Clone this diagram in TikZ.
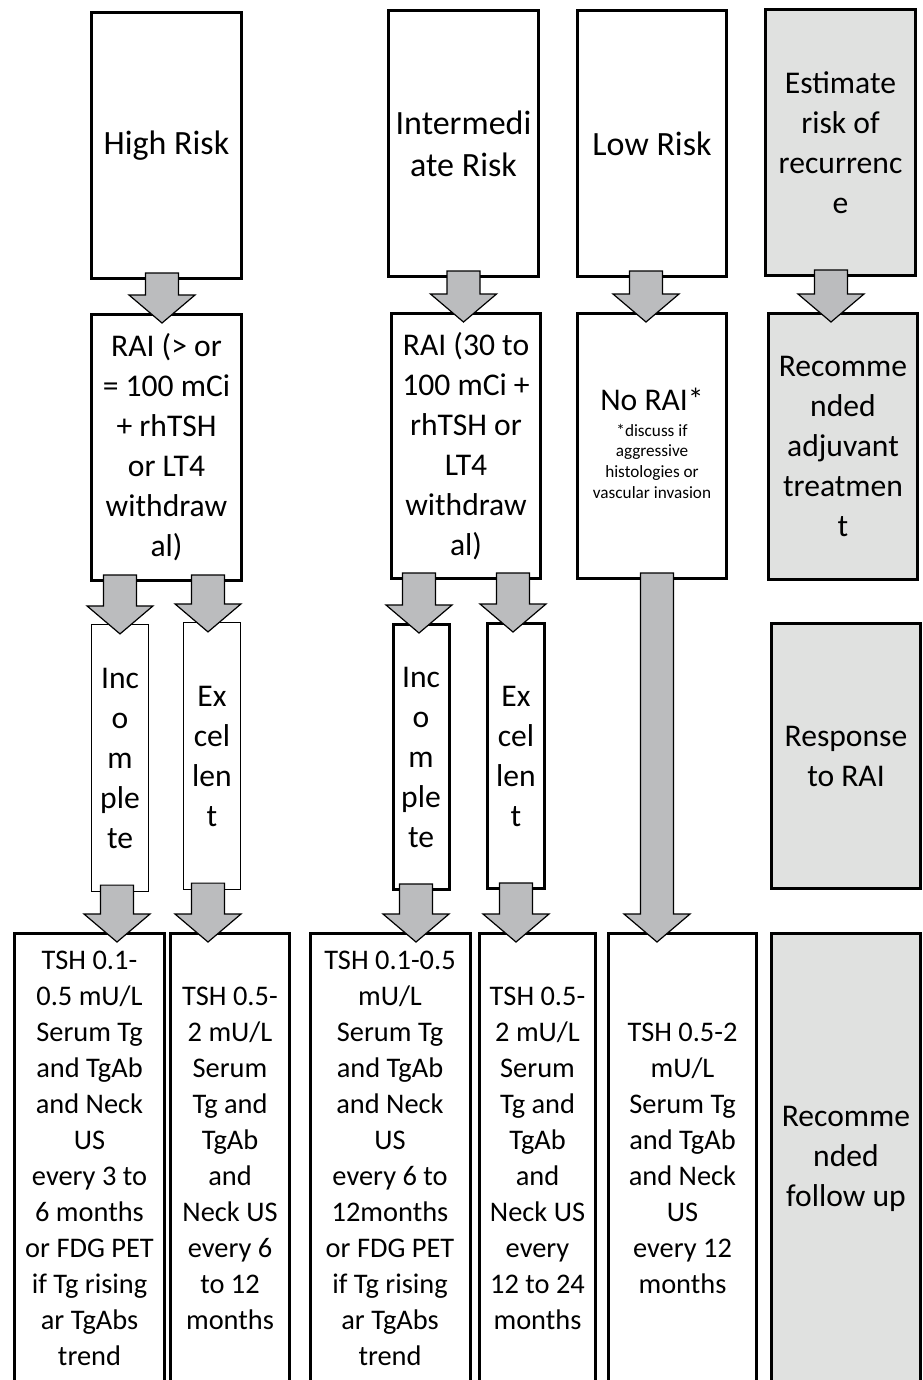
\documentclass[tikz,border=0pt]{standalone}
\usepackage{fontspec}
\setmainfont{Carlito}
\usepackage{tikz}
\usetikzlibrary{calc}
\setlength{\parindent}{0pt}

\definecolor{boxgrey}{HTML}{E0E1E0}
\definecolor{arrowgrey}{HTML}{BBBCBE}
\newcommand{\boxfont}{\fontsize{15.8}{20}\selectfont}
\newcommand{\riskfont}{\fontsize{17}{21}\selectfont}
\newcommand{\tshfont}{\fontsize{14.2}{18}\selectfont}
\newcommand{\notefont}{\fontsize{8.6}{10.35}\selectfont}
\newcommand{\fatarrow}[2]{%
  \filldraw[fatarrow] let \p1=#1, \p2=#2 in
    (\x1-8.25pt,\y1+3.5pt) -- (\x1-8.25pt,\y2+9pt) -- (\x1-16.5pt,\y2+9pt)
    -- (\x1,\y2-5pt) -- (\x1+16.5pt,\y2+9pt) -- (\x1+8.25pt,\y2+9pt)
    -- (\x1+8.25pt,\y1+3.5pt) -- cycle;}

\begin{document}
\begin{tikzpicture}[x=0.5pt,y=-0.5pt,
    riskbox/.style={draw, line width=1.5pt, inner sep=0pt, align=center, font=\boxfont},
    greybox/.style={riskbox, fill=boxgrey},
    thinbox/.style={riskbox, line width=0.6pt},
    tshbox/.style={riskbox, font=\tshfont, minimum height=225.25pt},
    fatarrow/.style={draw=black, fill=arrowgrey, line width=0.6pt}]
  \clip (0,0) rectangle (922,1380);

  \node[riskbox, font=\riskfont, minimum width=75pt, minimum height=133pt] (hr) at (166.5,145.5) {High Risk};
  \node[riskbox, font=\riskfont, minimum width=75pt, minimum height=133pt] (ir) at (463.5,143.5) {Intermedi\\ate Risk};
  \node[riskbox, font=\riskfont, minimum width=74.5pt, minimum height=133pt] (lr) at (652,143.5) {Low Risk};
  \node[greybox, minimum width=75pt, minimum height=133pt] (est) at (840.5,142.5) {Estimate\\risk of\\recurrenc\\e};

  \node[riskbox, minimum width=75pt, minimum height=133pt] (hrai) at (166.5,447.5) {RAI (> or\\= 100 mCi\\+ rhTSH\\or LT4\\withdraw\\al)};
  \node[riskbox, minimum width=74.5pt, minimum height=132.5pt] (irai) at (466,446) {RAI (30 to\\100 mCi +\\rhTSH or\\LT4\\withdraw\\al)};
  \node[riskbox, minimum width=74.5pt, minimum height=132.5pt] (lrai) at (652,446)
    {No RAI*\\[-7pt]{\notefont\begin{tabular}[t]{@{}c@{}}*discuss if\\aggressive\\histologies or\\vascular invasion\end{tabular}}};
  \node[greybox, minimum width=74.5pt, minimum height=133pt] (adj) at (843,446.5) {Recomme\\nded\\adjuvant\\treatmen\\t};

  \node[thinbox, minimum width=28.5pt, minimum height=133.5pt] (hinc) at (120,758) {Inc\\o\\m\\ple\\te};
  \node[thinbox, minimum width=28.5pt, minimum height=133.5pt] (hexc) at (212,756) {Ex\\cel\\len\\t};
  \node[riskbox, minimum width=28pt, minimum height=132.5pt] (iinc) at (421,757) {Inc\\o\\m\\ple\\te};
  \node[riskbox, minimum width=28.5pt, minimum height=132.5pt] (iexc) at (516,756) {Ex\\cel\\len\\t};
  \node[greybox, minimum width=74.5pt, minimum height=132.5pt] (resp) at (846,756) {Response\\to RAI};

  \node[tshbox, minimum width=75pt] (ht) at (89.5,1158.75) {TSH 0.1-\\0.5 mU/L\\Serum Tg\\and TgAb\\and Neck\\US\\every 3 to\\6 months\\or FDG PET\\if Tg rising\\ar TgAbs\\trend};
  \node[tshbox, minimum width=59.5pt] (he) at (230,1158.75) {TSH 0.5-\\2 mU/L\\Serum\\Tg and\\TgAb\\and\\Neck US\\every 6\\to 12\\months};
  \node[tshbox, minimum width=80pt] (it) at (390,1158.75) {TSH 0.1-0.5\\mU/L\\Serum Tg\\and TgAb\\and Neck\\US\\every 6 to\\12months\\or FDG PET\\if Tg rising\\ar TgAbs\\trend};
  \node[tshbox, minimum width=58pt] (ie) at (537.5,1158.75) {TSH 0.5-\\2 mU/L\\Serum\\Tg and\\TgAb\\and\\Neck US\\every\\12 to 24\\months};
  \node[tshbox, minimum width=74pt] (lt) at (682.5,1158.75) {TSH 0.5-2\\mU/L\\Serum Tg\\and TgAb\\and Neck\\US\\every 12\\months};
  \node[tshbox, fill=boxgrey, font=\boxfont, minimum width=74.5pt] (fu) at (846,1158.75) {Recomme\\nded\\follow up};

  \fatarrow{([xshift=-2.25pt]hr.south)}{(hrai.north)}
  \fatarrow{(ir.south)}{(irai.north)}
  \fatarrow{([xshift=-3pt]lr.south)}{(lrai.north)}
  \fatarrow{([xshift=-4.75pt]est.south)}{(adj.north)}

  \fatarrow{(hinc.north |- hrai.south)}{(hinc.north)}
  \fatarrow{([xshift=-2pt]hexc.north |- hrai.south)}{(hexc.north)}
  \fatarrow{([xshift=-1pt]iinc.north |- irai.south)}{(iinc.north)}
  \fatarrow{([xshift=-1.5pt]iexc.north |- irai.south)}{(iexc.north)}
  \fatarrow{([xshift=2.5pt]lrai.south)}{(lt.north)}

  \fatarrow{([xshift=-1.5pt]hinc.south)}{(ht.north)}
  \fatarrow{([xshift=-2pt]hexc.south)}{(he.north)}
  \fatarrow{([xshift=-2.5pt]iinc.south)}{(it.north)}
  \fatarrow{(iexc.south)}{(ie.north)}
\end{tikzpicture}
\end{document}
